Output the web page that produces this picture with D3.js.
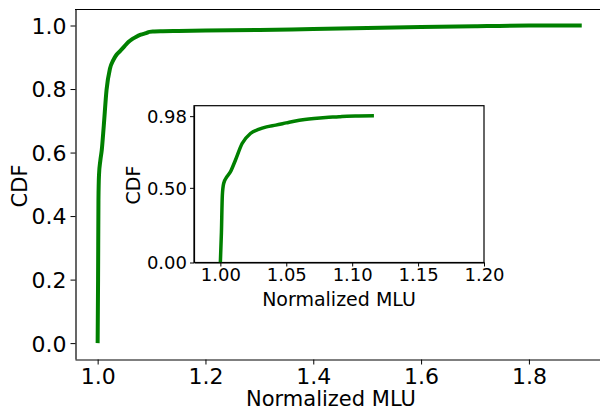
<!DOCTYPE html>
<html>
<head>
  <meta charset="UTF-8">
  <title>CDF of Normalized MLU</title>
  <style>
    body { margin: 0; background: #fff; }
    text { font-family: "DejaVu Sans", sans-serif; fill: #000; }
  </style>
</head>
<body>
<svg id="chart" width="600" height="412"></svg>
<script src="https://d3js.org/d3.v7.min.js"></script>
<script>

// Data
var mluValues = [1.0, 1.0008, 1.0015, 1.0025, 1.005, 1.0076, 1.0114, 1.0165, 1.0228, 1.029,
                 1.035, 1.042, 1.05, 1.057, 1.064, 1.071, 1.08, 1.09, 1.096, 1.105,
                 1.1165, 1.15, 1.2, 1.3, 1.4, 1.5, 1.6, 1.7, 1.8, 1.898];
var cdfValues = [0, 0.2, 0.45, 0.529, 0.575, 0.607, 0.685, 0.797, 0.864, 0.891,
                 0.908, 0.92, 0.935, 0.948, 0.957, 0.964, 0.971, 0.976, 0.98, 0.981,
                 0.982, 0.983, 0.984, 0.986, 0.989, 0.992, 0.995, 0.998, 1.0, 1.0];
var insetMax = 1.1165;   // inset shows the curve up to here

var mainXTicks = [1.0, 1.2, 1.4, 1.6, 1.8];
var mainYTicks = [0.0, 0.2, 0.4, 0.6, 0.8, 1.0];
var insetXTicks = [1.00, 1.05, 1.10, 1.15, 1.20];
var insetYTicks = [0.00, 0.50, 0.98];

var points = mluValues.map(function(d, i) { return [d, cdfValues[i]]; });
var insetPoints = points.filter(function(p) { return p[0] <= insetMax; });

var svg = d3.select("#chart");
svg.append("rect").attr("width", 600).attr("height", 412).attr("fill", "#fff");

function styleAxis(a, size) {
  a.attr("font-family", null).attr("font-size", null);
  a.selectAll("text").style("font-size", size).attr("fill", "#000");
  a.selectAll("line").attr("stroke", "#000");
  a.select(".domain").attr("stroke", "#000").attr("stroke-width", 1.2);
}

// ---- main axes
var x = d3.scaleLinear().domain([0.958, 1.943]).range([75, 606]);
var y = d3.scaleLinear().domain([-0.05, 1.052]).range([359, 9]);

var main = svg.append("g");

main.append("path")
    .datum(points)
    .attr("fill", "none")
    .attr("stroke", "#008000")
    .attr("stroke-width", 4)
    .attr("stroke-linejoin", "round")
    .attr("d", d3.line().curve(d3.curveMonotoneX)
        .x(function(d) { return x(d[0]); }).y(function(d) { return y(d[1]); }));

var xAxis = main.append("g")
    .attr("transform", "translate(0,359.5)")
    .call(d3.axisBottom(x).tickValues(mainXTicks).tickFormat(d3.format(".1f"))
          .tickSize(5).tickSizeOuter(0).tickPadding(4));
var yAxis = main.append("g")
    .attr("transform", "translate(75.5,0)")
    .call(d3.axisLeft(y).tickValues(mainYTicks).tickFormat(d3.format(".1f"))
          .tickSize(5).tickSizeOuter(0).tickPadding(4));
styleAxis(xAxis, "22px");
styleAxis(yAxis, "22px");
yAxis.selectAll("text").attr("dy", "0.36em");
xAxis.selectAll("text").attr("dy", "0.72em");

// top spine (right spine is off the picture)
main.append("line")
    .attr("x1", 75).attr("x2", 606).attr("y1", 9.5).attr("y2", 9.5)
    .attr("stroke", "#000").attr("stroke-width", 1);

main.append("text")
    .attr("x", 331).attr("y", 406)
    .attr("text-anchor", "middle")
    .style("font-size", "21px")
    .text("Normalized MLU");
main.append("text")
    .attr("transform", "translate(27,186) rotate(-90)")
    .attr("text-anchor", "middle")
    .style("font-size", "21px")
    .text("CDF");

// ---- inset axes
var ix = d3.scaleLinear().domain([0.98, 1.2]).range([194, 484]);
var iy = d3.scaleLinear().domain([0, 1.05]).range([262.5, 105.7]);

var inset = svg.append("g");
inset.append("rect")
    .attr("x", 194).attr("y", 105.7).attr("width", 290).attr("height", 156.8)
    .attr("fill", "#fff").attr("stroke", "#000").attr("stroke-width", 1.2);

inset.append("path")
    .datum(insetPoints)
    .attr("fill", "none")
    .attr("stroke", "#008000")
    .attr("stroke-width", 3.5)
    .attr("stroke-linejoin", "round")
    .attr("d", d3.line().curve(d3.curveMonotoneX)
        .x(function(d) { return ix(d[0]); }).y(function(d) { return iy(d[1]); }));

var ixAxis = inset.append("g")
    .attr("transform", "translate(0,262.5)")
    .call(d3.axisBottom(ix).tickValues(insetXTicks).tickFormat(d3.format(".2f"))
          .tickSize(4).tickSizeOuter(0).tickPadding(2));
var iyAxis = inset.append("g")
    .attr("transform", "translate(194,0)")
    .call(d3.axisLeft(iy).tickValues(insetYTicks).tickFormat(d3.format(".2f"))
          .tickSize(4).tickSizeOuter(0).tickPadding(3));
styleAxis(ixAxis, "18px");
styleAxis(iyAxis, "18px");
iyAxis.selectAll("text").attr("dy", "0.36em");
ixAxis.selectAll("text").attr("dy", "0.72em");

inset.append("text")
    .attr("x", 339).attr("y", 305.5)
    .attr("text-anchor", "middle")
    .style("font-size", "19px")
    .text("Normalized MLU");
inset.append("text")
    .attr("transform", "translate(140,185) rotate(-90)")
    .attr("text-anchor", "middle")
    .style("font-size", "19px")
    .text("CDF");

</script>
</body>
</html>
